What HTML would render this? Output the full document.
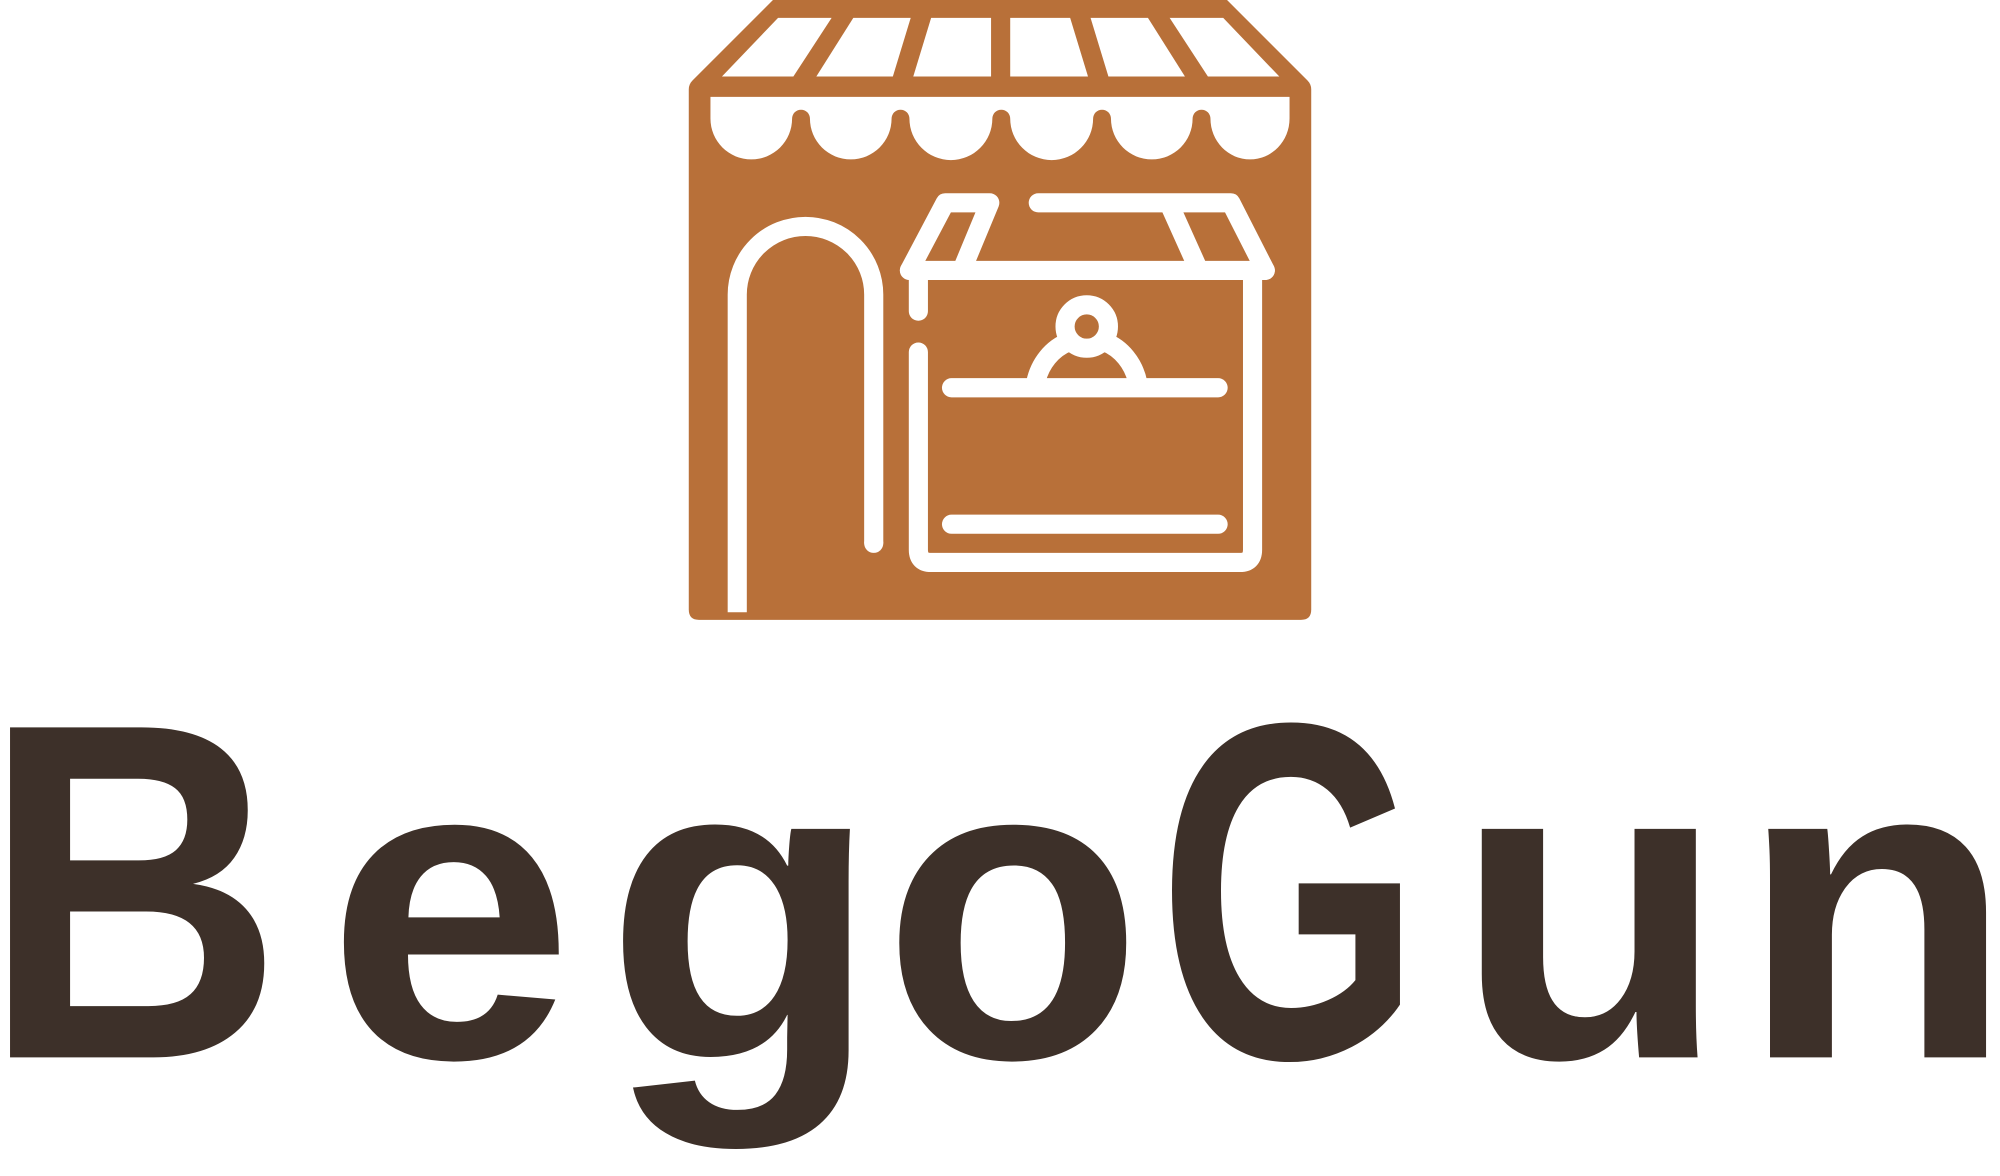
<!DOCTYPE html>
<html><head><meta charset="utf-8"><style>html,body{margin:0;padding:0;background:#fff}svg{display:block}</style></head>
<body>
<svg width="2000" height="1176" viewBox="0 0 1568 922" preserveAspectRatio="none" xmlns="http://www.w3.org/2000/svg">
<g>
<path fill="#b87039" d="M606,0 H962 L1025,63 Q1028,66 1028,70 V478 Q1028,486 1020,486 H548 Q540,486 540,478 V70 Q540,66 543,63 Z"/>
<g fill="#fff">
<polygon points="566,60 610,14 652,14 622,60"/>
<polygon points="640,60 669,14 714,14 700,60"/>
<polygon points="716,60 730,14 777,14 777,60"/>
<polygon points="792,60 792,14 839,14 853,60"/>
<polygon points="869,60 855,14 900,14 929,60"/>
<polygon points="947,60 917,14 959,14 1003,60"/>
</g>
<path fill="#fff" d="M557,76 H1011 V93 A31,32 0 0 1 949,93 A7,7 0 0 0 935,93 A32,32 0 0 1 871,93 A7,7 0 0 0 857,93 A32,32 0 0 1 792,93 A7,7 0 0 0 778,93 A32,32 0 0 1 713,93 A7,7 0 0 0 699,93 A32,32 0 0 1 635,93 A7,7 0 0 0 621,93 A32,32 0 0 1 557,93 Z"/>
<g fill="none" stroke="#fff" stroke-width="15" stroke-linecap="round" stroke-linejoin="round">
<path d="M578,480 V231 A53,53 0 0 1 685,231 V426" stroke-linecap="butt"/>
<path d="M685,426 V426"/>
<path d="M713,212 L741,159 H776 L754,212"/>
<path d="M814,159 H965 L992,212 M918,163 L940,212"/>
<path d="M713,212 H992 M982,212 V431 Q982,441 972,441 H730 Q720,441 720,431 V276 M720,212 V244"/>
<circle cx="852" cy="256" r="17"/>
<path d="M812,300 A40,44 0 0 1 838,268 M866,268 A40,44 0 0 1 892,300" stroke-linecap="butt"/>
<path d="M746,304 H955"/>
<path d="M746,411 H955"/>
</g>
</g>
<g fill="#3d3029" font-family="'Liberation Sans', sans-serif" font-weight="bold">
<text x="-14" y="829" font-size="376" textLength="236" lengthAdjust="spacingAndGlyphs">B</text>
<text x="256" y="829" font-size="339" textLength="194" lengthAdjust="spacingAndGlyphs">e</text>
<text x="474" y="829" font-size="339" textLength="216" lengthAdjust="spacingAndGlyphs">g</text>
<text x="692" y="829" font-size="339" textLength="204" lengthAdjust="spacingAndGlyphs">o</text>
<text x="908" y="829" font-size="376" textLength="206" lengthAdjust="spacingAndGlyphs">G</text>
<text x="1140" y="829" font-size="339" textLength="214" lengthAdjust="spacingAndGlyphs">u</text>
<text x="1363" y="829" font-size="339" textLength="216" lengthAdjust="spacingAndGlyphs">n</text>
</g>
</svg>
</body></html>
